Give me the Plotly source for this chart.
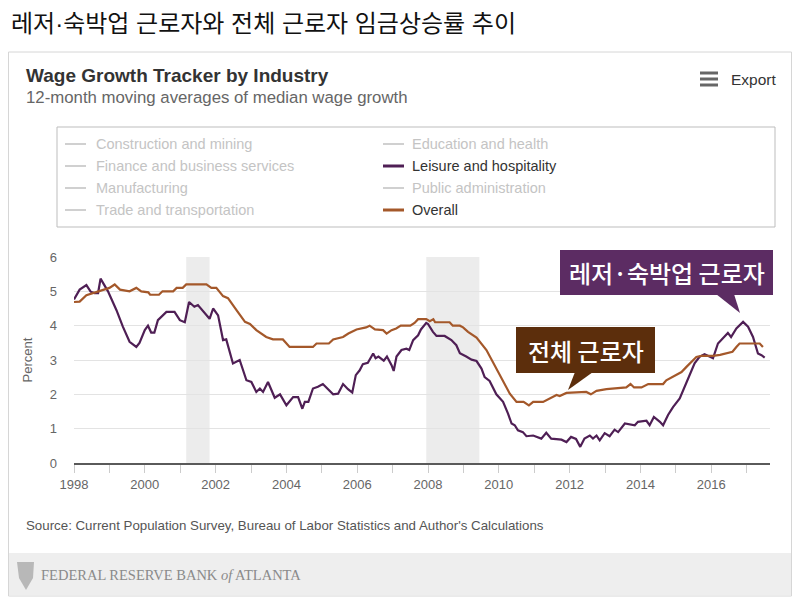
import plotly.graph_objects as go

# ---------------- data ----------------
leisure_x = [1998.00, 1998.16, 1998.35, 1998.47, 1998.58, 1998.68, 1998.75, 1998.96, 1999.20, 1999.38,
             1999.57, 1999.76, 1999.85, 2000.00, 2000.09, 2000.18, 2000.27, 2000.37, 2000.61, 2000.84,
             2000.99, 2001.13, 2001.25, 2001.40, 2001.50, 2001.74, 2001.83, 2001.93, 2002.07, 2002.21,
             2002.30, 2002.49, 2002.68, 2002.87, 2003.01, 2003.15, 2003.25, 2003.34, 2003.48, 2003.67,
             2003.82, 2004.00, 2004.19, 2004.33, 2004.45, 2004.52, 2004.62, 2004.75, 2004.89, 2005.03,
             2005.17, 2005.32, 2005.46, 2005.60, 2005.74, 2005.86, 2005.96, 2006.07, 2006.16, 2006.30,
             2006.45, 2006.52, 2006.60, 2006.75, 2006.84, 2006.97, 2007.03, 2007.11, 2007.25, 2007.39,
             2007.47, 2007.58, 2007.72, 2007.80, 2007.95, 2008.00, 2008.14, 2008.24, 2008.47, 2008.66,
             2008.80, 2008.90, 2009.08, 2009.23, 2009.37, 2009.51, 2009.60, 2009.74, 2009.93, 2010.12,
             2010.26, 2010.36, 2010.45, 2010.54, 2010.68, 2010.78, 2010.97, 2011.20, 2011.34, 2011.48,
             2011.77, 2011.91, 2012.04, 2012.18, 2012.30, 2012.42, 2012.57, 2012.66, 2012.76, 2012.85,
             2012.99, 2013.13, 2013.27, 2013.37, 2013.56, 2013.70, 2013.84, 2013.93, 2014.17, 2014.26,
             2014.38, 2014.55, 2014.64, 2014.78, 2014.92, 2015.11, 2015.25, 2015.39, 2015.53, 2015.67,
             2015.81, 2015.95, 2016.05, 2016.19, 2016.33, 2016.47, 2016.56, 2016.71, 2016.90, 2017.04,
             2017.18, 2017.32, 2017.42, 2017.51]
leisure_y = [4.76, 5.05, 5.18, 4.99, 4.95, 4.95, 5.37, 5.00, 4.45, 3.97,
             3.53, 3.38, 3.50, 3.87, 4.00, 3.80, 3.80, 4.16, 4.40, 4.40,
             4.16, 4.10, 4.69, 4.55, 4.60, 4.30, 4.20, 4.50, 4.30, 3.58,
             3.60, 2.90, 3.00, 2.41, 2.36, 2.07, 2.17, 2.07, 2.36, 1.90,
             2.00, 1.68, 1.92, 1.92, 1.58, 1.78, 1.78, 2.17, 2.22, 2.30,
             2.15, 2.00, 2.02, 2.30, 2.15, 2.05, 2.56, 2.70, 2.88, 2.92,
             3.19, 3.05, 3.10, 2.98, 3.10, 2.85, 2.68, 3.10, 3.29, 3.33,
             3.29, 3.58, 3.72, 3.89, 4.08, 4.05, 3.82, 3.70, 3.70, 3.58,
             3.43, 3.20, 3.10, 3.01, 2.97, 2.75, 2.50, 2.39, 2.00, 1.78,
             1.44, 1.15, 1.10, 0.95, 0.90, 0.78, 0.80, 0.71, 0.88, 0.71,
             0.68, 0.61, 0.76, 0.70, 0.47, 0.71, 0.80, 0.71, 0.80, 0.66,
             0.87, 0.78, 0.97, 0.90, 1.15, 1.13, 1.10, 1.20, 1.23, 1.10,
             1.34, 1.20, 1.10, 1.40, 1.63, 1.88, 2.22, 2.56, 2.90, 3.09,
             3.17, 3.10, 3.05, 3.48, 3.63, 3.79, 3.67, 3.92, 4.11, 3.97,
             3.67, 3.19, 3.14, 3.07]

overall_x = [1998.00, 1998.16, 1998.35, 1998.70, 1999.00, 1999.15, 1999.30, 1999.57, 1999.76, 1999.90,
             2000.10, 2000.15, 2000.40, 2000.50, 2000.80, 2000.90, 2001.07, 2001.17, 2001.74, 2001.88,
             2002.02, 2002.21, 2002.35, 2002.59, 2002.83, 2002.97, 2003.15, 2003.43, 2003.62, 2003.90,
             2004.09, 2004.75, 2004.85, 2005.20, 2005.32, 2005.60, 2005.75, 2005.98, 2006.25, 2006.35,
             2006.50, 2006.73, 2006.83, 2006.97, 2007.10, 2007.23, 2007.50, 2007.62, 2007.72, 2007.95,
             2008.05, 2008.15, 2008.20, 2008.61, 2008.70, 2008.90, 2008.99, 2009.13, 2009.37, 2009.65,
             2009.93, 2010.12, 2010.31, 2010.50, 2010.70, 2010.85, 2010.97, 2011.25, 2011.44, 2011.63,
             2011.72, 2011.91, 2012.47, 2012.60, 2012.76, 2013.04, 2013.60, 2013.72, 2013.82, 2014.03,
             2014.22, 2014.64, 2014.73, 2014.92, 2015.16, 2015.30, 2015.44, 2015.58, 2015.72, 2016.05,
             2016.25, 2016.43, 2016.60, 2016.71, 2016.80, 2017.37, 2017.46]
overall_y = [4.69, 4.70, 4.89, 5.00, 5.10, 5.20, 5.05, 5.00, 5.10, 5.00,
             4.97, 4.90, 4.90, 5.00, 5.00, 5.10, 5.10, 5.20, 5.20, 5.10,
             5.10, 4.86, 4.80, 4.45, 4.11, 4.05, 3.87, 3.67, 3.60, 3.60,
             3.38, 3.38, 3.48, 3.48, 3.60, 3.67, 3.77, 3.89, 3.95, 4.00,
             3.89, 3.87, 3.77, 3.87, 3.92, 4.00, 4.00, 4.08, 4.19, 4.19,
             4.13, 4.19, 4.10, 4.10, 4.00, 4.00, 3.95, 3.82, 3.65, 3.29,
             2.75, 2.41, 2.02, 1.78, 1.78, 1.68, 1.78, 1.78, 1.88, 1.98,
             1.95, 2.04, 2.07, 2.00, 2.10, 2.15, 2.20, 2.30, 2.20, 2.20,
             2.30, 2.30, 2.41, 2.51, 2.65, 2.80, 2.94, 3.09, 3.12, 3.12,
             3.15, 3.19, 3.24, 3.38, 3.48, 3.48, 3.38]

recession_start = [2001.17, 2007.95]
recession_end = [2001.83, 2009.45]

year_ticks = list(range(1998, 2018))
year_labels = [str(y) if y % 2 == 0 else "" for y in year_ticks]

legend_left = ["Construction and mining", "Finance and business services", "Manufacturing",
               "Trade and transportation"]
legend_right = ["Education and health", "Leisure and hospitality", "Public administration", "Overall"]

PURPLE = "#4f1f55"
BROWN = "#a4582a"

# ---------------- geometry helpers (screen pixel -> paper) ----------------
OFF = 8                      # page body margin
W, H = 800 - OFF, 604 - OFF
PX0, PX1, PY0, PY1 = 74, 770, 257, 463   # plot area in screen pixels
ML, MR = PX0 - OFF, W - (PX1 - OFF)
MT, MB = PY0 - OFF, H - (PY1 - OFF)
PW, PH = PX1 - PX0, PY1 - PY0


def fx(px):
    return (px - PX0) / PW


def fy(py):
    return (PY1 - py) / PH


fig = go.Figure()
fig.add_trace(go.Scatter(x=leisure_x, y=leisure_y, mode="lines", name="Leisure and hospitality",
                         line=dict(color=PURPLE, width=2.2), showlegend=False))
fig.add_trace(go.Scatter(x=overall_x, y=overall_y, mode="lines", name="Overall",
                         line=dict(color=BROWN, width=2.2), showlegend=False))

shapes = []
annotations = []
SANS = "Liberation Sans, Arial, sans-serif"
KR = "Noto Sans CJK KR"

# card border
shapes.append(dict(type="rect", xref="paper", yref="paper", x0=fx(8.5), x1=fx(791.5), y0=fy(52), y1=fy(596),
                   line=dict(color="#d6d6d6", width=1), fillcolor="rgba(0,0,0,0)", layer="below"))
# footer band
shapes.append(dict(type="rect", xref="paper", yref="paper", x0=fx(9), x1=fx(791), y0=fy(553), y1=fy(595),
                   line=dict(width=0), fillcolor="#eeeeee", layer="below"))
# logo (simple shield)
logo = "M {} {} L {} {} L {} {} L {} {} L {} {} Z".format(
    fx(17), fy(562), fx(34), fy(562), fx(33), fy(578), fx(26), fy(590), fx(19), fy(578))
shapes.append(dict(type="path", xref="paper", yref="paper", path=logo, fillcolor="#b8b8b8",
                   line=dict(width=0), layer="below"))

# recession shading
for s, e in zip(recession_start, recession_end):
    shapes.append(dict(type="rect", xref="x", yref="paper", x0=s, x1=e, y0=0, y1=1,
                       fillcolor="#ececec", line=dict(width=0), layer="below"))

# legend box
shapes.append(dict(type="rect", xref="paper", yref="paper", x0=fx(57), x1=fx(775), y0=fy(127), y1=fy(227),
                   line=dict(color="#bdbdbd", width=1), fillcolor="rgba(0,0,0,0)"))
rows = [144, 166, 188, 210]
for i, name in enumerate(legend_left):
    shapes.append(dict(type="line", xref="paper", yref="paper", x0=fx(65), x1=fx(86), y0=fy(rows[i]),
                       y1=fy(rows[i]), line=dict(color="#d0d0d0", width=2)))
    annotations.append(dict(text=name, xref="paper", yref="paper", x=fx(94), y=fy(rows[i]), xanchor="left",
                            yanchor="middle", showarrow=False, font=dict(family=SANS, size=14.5, color="#c4c4c4")))
for i, name in enumerate(legend_right):
    active = {"Leisure and hospitality": PURPLE, "Overall": BROWN}.get(name)
    shapes.append(dict(type="line", xref="paper", yref="paper", x0=fx(383), x1=fx(404), y0=fy(rows[i]),
                       y1=fy(rows[i]), line=dict(color=active or "#d0d0d0", width=2 if not active else 3)))
    annotations.append(dict(text=name, xref="paper", yref="paper", x=fx(410), y=fy(rows[i]), xanchor="left",
                            yanchor="middle", showarrow=False,
                            font=dict(family=SANS, size=14.5, color="#333333" if active else "#c4c4c4")))

# callout boxes
shapes.append(dict(type="rect", xref="paper", yref="paper", x0=fx(560), x1=fx(773), y0=fy(250), y1=fy(295),
                   fillcolor="#5c2c63", line=dict(width=0)))
shapes.append(dict(type="path", xref="paper", yref="paper",
                   path="M {} {} L {} {} L {} {} Z".format(fx(716), fy(294), fx(734), fy(294), fx(740), fy(313)),
                   fillcolor="#5c2c63", line=dict(width=0)))
shapes.append(dict(type="rect", xref="paper", yref="paper", x0=fx(516), x1=fx(655), y0=fy(327), y1=fy(373),
                   fillcolor="#5c2e0c", line=dict(width=0)))
shapes.append(dict(type="path", xref="paper", yref="paper",
                   path="M {} {} L {} {} L {} {} Z".format(fx(575), fy(372), fx(593), fy(372), fx(568), fy(390)),
                   fillcolor="#5c2e0c", line=dict(width=0)))
annotations.append(dict(text="레저·숙박업 근로자", xref="paper", yref="paper", x=fx(667), y=fy(272.5),
                        xanchor="center", yanchor="middle", showarrow=False,
                        font=dict(family=KR, size=24, weight=500, color="white")))
annotations.append(dict(text="전체 근로자", xref="paper", yref="paper", x=fx(586), y=fy(350),
                        xanchor="center", yanchor="middle", showarrow=False,
                        font=dict(family=KR, size=24, weight=500, color="white")))

# titles and texts
annotations.append(dict(text="레저·숙박업 근로자와 전체 근로자 임금상승률 추이", xref="paper", yref="paper",
                        x=fx(9), y=fy(23.5), xanchor="left", yanchor="middle", showarrow=False,
                        font=dict(family="Liberation Sans, Noto Sans CJK KR", size=24, color="#111111")))
annotations.append(dict(text="<b>Wage Growth Tracker by Industry</b>", xref="paper", yref="paper",
                        x=fx(24), y=fy(75), xanchor="left", yanchor="middle", showarrow=False,
                        font=dict(family=SANS, size=19, color="#333333")))
annotations.append(dict(text="12-month moving averages of median wage growth", xref="paper", yref="paper",
                        x=fx(24), y=fy(98), xanchor="left", yanchor="middle", showarrow=False,
                        font=dict(family=SANS, size=16.8, color="#666666")))
annotations.append(dict(text="Export", xref="paper", yref="paper", x=fx(729), y=fy(79), xanchor="left",
                        yanchor="middle", showarrow=False, font=dict(family=SANS, size=15.5, color="#333333")))
for yy in (73, 79, 85):
    shapes.append(dict(type="line", xref="paper", yref="paper", x0=fx(700), x1=fx(718), y0=fy(yy), y1=fy(yy),
                       line=dict(color="#666666", width=3)))
annotations.append(dict(text="Source: Current Population Survey, Bureau of Labor Statistics and Author's Calculations",
                        xref="paper", yref="paper", x=fx(24), y=fy(525), xanchor="left", yanchor="middle",
                        showarrow=False, font=dict(family=SANS, size=13.3, color="#555555")))
annotations.append(dict(text="FEDERAL RESERVE BANK <i>of</i> ATLANTA", xref="paper", yref="paper",
                        x=fx(39), y=fy(575), xanchor="left", yanchor="middle", showarrow=False,
                        font=dict(family="Liberation Serif, serif", size=14.5, color="#8a8a8a")))

fig.update_layout(
    width=W, height=H,
    margin=dict(l=ML, r=MR, t=MT, b=MB, pad=0),
    paper_bgcolor="white", plot_bgcolor="white",
    showlegend=False,
    shapes=shapes, annotations=annotations,
    xaxis=dict(range=[1998, 2017.66], tickvals=year_ticks, ticktext=year_labels, ticks="outside",
               ticklen=8, tickcolor="#cccccc", showgrid=False, zeroline=False, showline=True,
               linecolor="#5a5a5a", linewidth=2, tickfont=dict(family=SANS, size=13, color="#666666")),
    yaxis=dict(range=[0, 6], dtick=1, showgrid=True, gridcolor="#e3e3e3", zeroline=False,
               ticks="", ticklabelstandoff=16, tickfont=dict(family=SANS, size=13, color="#666666"),
               title=dict(text="Percent", font=dict(family=SANS, size=13, color="#666666"), standoff=14)),
)

fig.write_html("out.html")
